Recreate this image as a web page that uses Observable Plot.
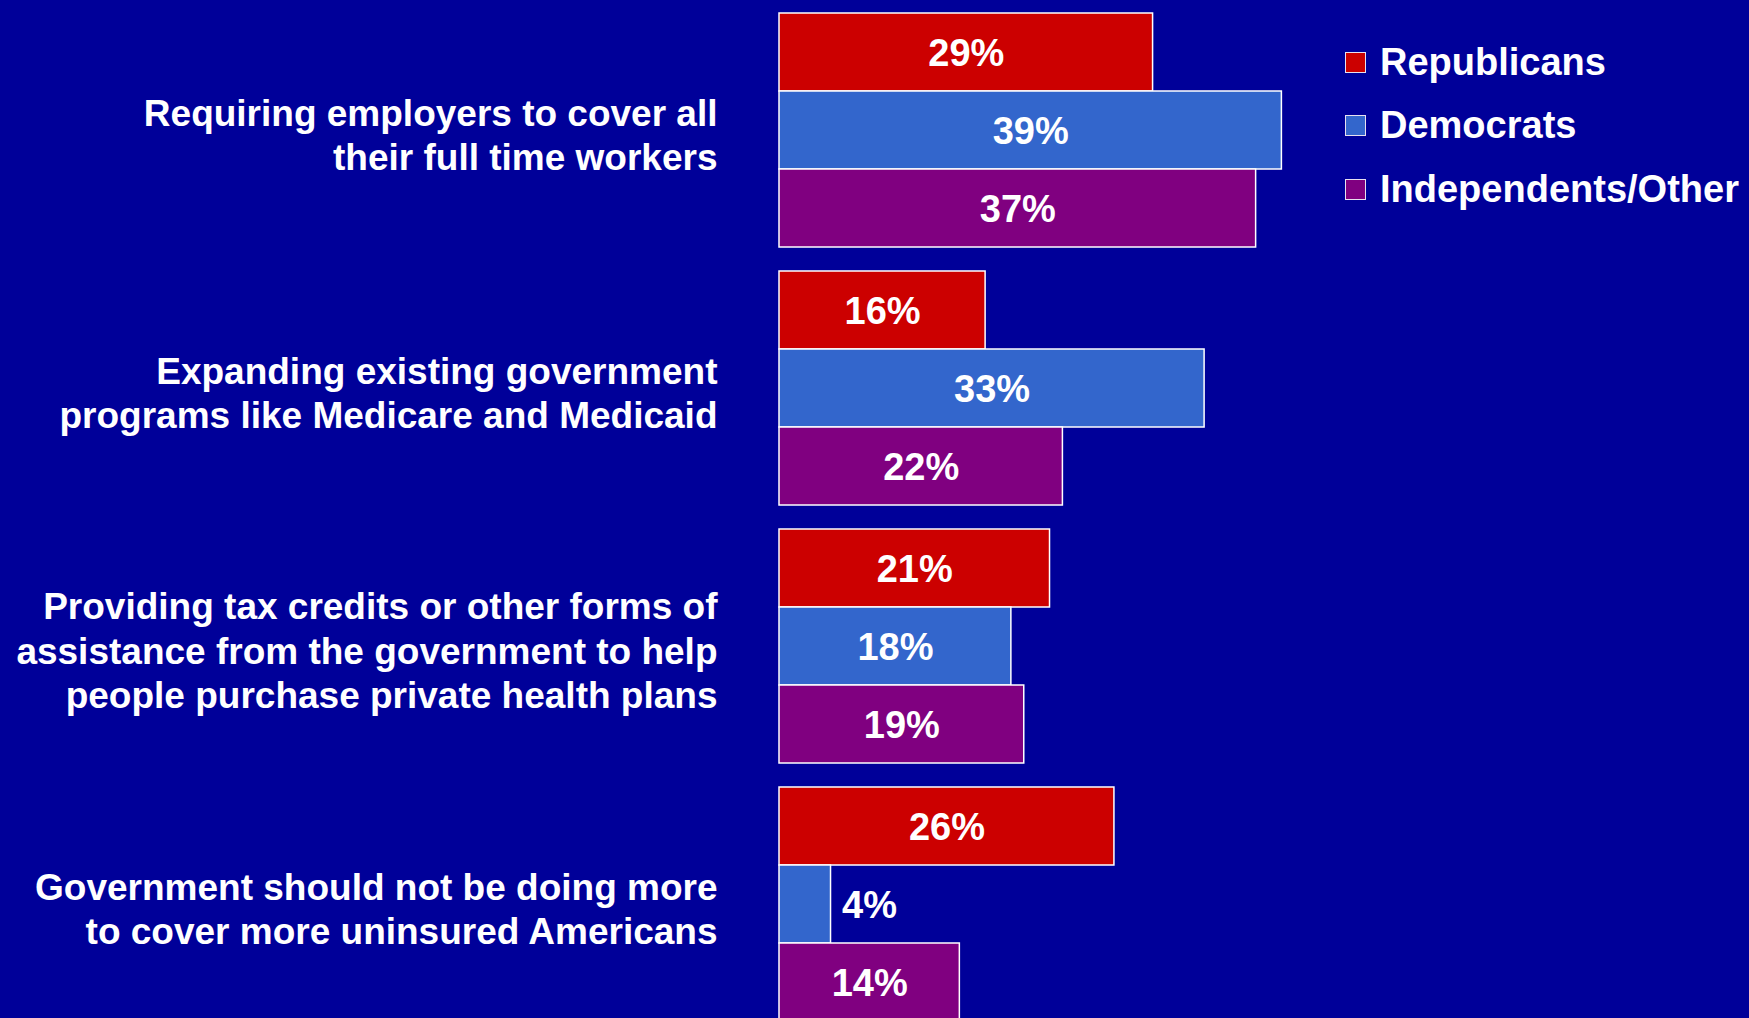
<!DOCTYPE html>
<html>
<head>
<meta charset="utf-8">
<script src="https://cdn.jsdelivr.net/npm/d3@7"></script>
<script src="https://cdn.jsdelivr.net/npm/@observablehq/plot@0.6"></script>
<style>
  html, body { margin: 0; padding: 0; background: #000099; overflow: hidden; }
  #wrap { position: relative; width: 1749px; height: 1018px; overflow: hidden; }
  #wrap svg { position: absolute; left: 0; top: 0; }
  #legend { position: absolute; left: 1345px; top: 31px; font-family: "Liberation Sans", Arial, sans-serif; font-weight: bold; font-size: 38px; color: #fff; }
  #legend .row { display: flex; align-items: center; height: 63.3px; white-space: nowrap; }
  #legend .sw { width: 19px; height: 19px; border: 1.5px solid #e8e0f0; margin-right: 14px; flex: none; }
</style>
</head>
<body>
<div id="wrap"></div>
<script>
// ---- data ----
const questions = [
  "Requiring employers to cover all\ntheir full time workers",
  "Expanding existing government\nprograms like Medicare and Medicaid",
  "Providing tax credits or other forms of\nassistance from the government to help\npeople purchase private health plans",
  "Government should not be doing more\nto cover more uninsured Americans"
];
const parties = ["Republicans", "Democrats", "Independents/Other"];
const republicans = [29, 16, 21, 26];
const democrats = [39, 33, 18, 4];
const independents = [37, 22, 19, 14];
const partyColors = ["#CC0000", "#3366CC", "#800080"];

// ---- table ----
const seriesByParty = [republicans, democrats, independents];
const table = [];
questions.forEach((q, qi) => {
  parties.forEach((p, pi) => {
    table.push({question: q, party: p, value: seriesByParty[pi][qi]});
  });
});

const font = "'Liberation Sans', Arial, sans-serif";

const chart = Plot.plot({
  width: 1749,
  height: 1021,
  marginLeft: 779,
  marginRight: 0,
  marginTop: 13,
  marginBottom: 0,
  style: {background: "transparent", fontFamily: font, overflow: "visible"},
  facet: {data: table, y: "question", marginTop: 0, marginBottom: 0, marginLeft: 0, marginRight: 0},
  fy: {domain: questions, paddingInner: 0.093, paddingOuter: 0, round: false, axis: null, label: null},
  x: {domain: [0, 75.3], axis: null},
  y: {domain: parties, padding: 0, round: false, axis: null, label: null},
  color: {domain: parties, range: partyColors},
  marks: [
    Plot.barX(table, {x: "value", y: "party", fill: "party", stroke: "white", strokeWidth: 1.5}),
    Plot.text(table, {
      filter: d => d.value >= 6,
      x: d => d.value / 2, y: "party",
      text: d => d.value + "%",
      fill: "white", fontSize: 38, fontWeight: "bold", dy: 1
    }),
    Plot.text(table, {
      filter: d => d.value < 6,
      x: "value", y: "party",
      text: d => d.value + "%",
      textAnchor: "start", dx: 11,
      fill: "white", fontSize: 38, fontWeight: "bold", dy: 1
    }),
    Plot.text(table, {
      filter: d => d.party === parties[0],
      text: "question",
      frameAnchor: "left",
      textAnchor: "end",
      dx: -62, dy: 3,
      lineHeight: 1.2,
      fill: "white", fontSize: 37, fontWeight: "bold"
    })
  ]
});

const wrap = document.getElementById("wrap");
wrap.appendChild(chart);

// legend
const legend = document.createElement("div");
legend.id = "legend";
parties.forEach((p, i) => {
  const row = document.createElement("div");
  row.className = "row";
  const sw = document.createElement("span");
  sw.className = "sw";
  sw.style.background = partyColors[i];
  const t = document.createElement("span");
  t.textContent = p;
  row.appendChild(sw);
  row.appendChild(t);
  legend.appendChild(row);
});
wrap.appendChild(legend);
</script>
</body>
</html>
